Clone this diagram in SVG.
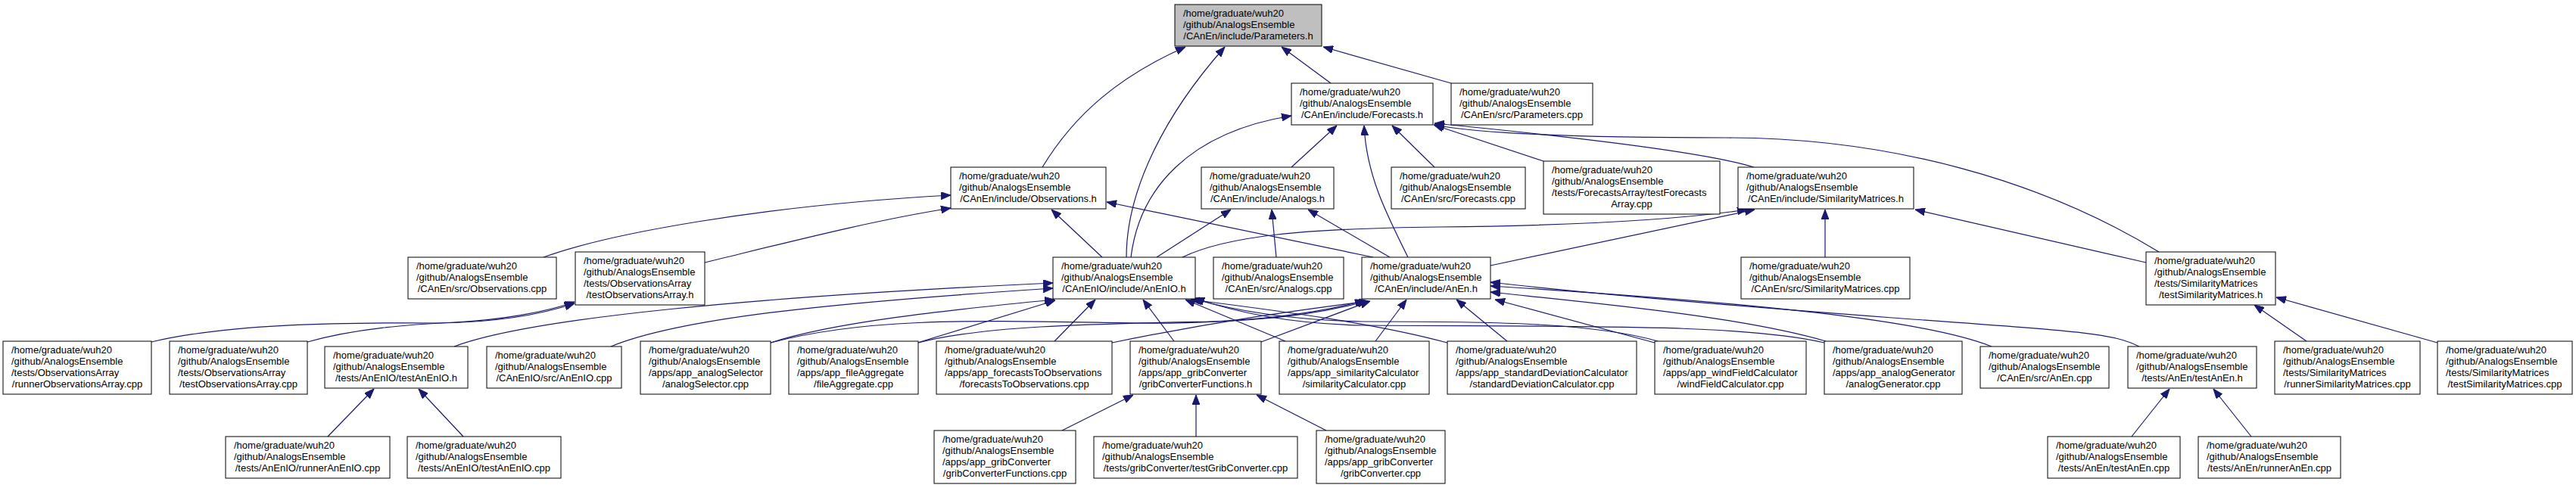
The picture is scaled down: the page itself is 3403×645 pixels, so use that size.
<svg xmlns="http://www.w3.org/2000/svg" width="3403" height="645" viewBox="0 0 3403 645">
<style>
.n rect{fill:#fff;stroke:#000;stroke-width:1}
.n.root rect{fill:#bfbfbf}
.n text{font-family:"Liberation Sans",Arial,sans-serif;font-size:13px;fill:#000}
.n text.c{text-anchor:middle}
#edges path{fill:none;stroke:#191970;stroke-width:1.2;marker-end:url(#ah)}
</style>
<defs>
<marker id="ah" viewBox="0 0 13 10" markerWidth="13" markerHeight="10" markerUnits="userSpaceOnUse" refX="13" refY="5" orient="auto">
<path d="M0,0 L13,5 L0,10 z" fill="#191970" stroke="#191970" stroke-width="1"/>
</marker>
</defs>
<rect width="3403" height="645" fill="#fff"/>
<g id="edges">
<path d="M1377,221 C1420,150 1480,100 1566,62"/>
<path d="M1488,340 C1488,250 1540,150 1618,62"/>
<path d="M1758,110 L1693,62"/>
<path d="M1917,110 L1748,62"/>
<path d="M1706,221 L1766,166"/>
<path d="M1860,340 C1830,280 1805,230 1802,166"/>
<path d="M1895,221 L1839,166"/>
<path d="M2039,213 L1894,165"/>
<path d="M2317,221 C2250,200 2050,178 1895,163"/>
<path d="M2852,333 C2700,240 2500,182 2280,182 C2100,182 1960,178 1895,165"/>
<path d="M1494,340 C1505,250 1570,175 1706,153"/>
<path d="M718,340 C800,310 1000,272 1256,258"/>
<path d="M931,347 C1050,318 1150,292 1256,275"/>
<path d="M1456,340 L1389,277"/>
<path d="M1814,340 L1462,267"/>
<path d="M1528,340 L1626,277"/>
<path d="M1836,340 L1728,277"/>
<path d="M1686,340 L1680,277"/>
<path d="M1562,340 C1620,312 1720,302 1900,300 C2100,298 2220,290 2308,277"/>
<path d="M1969,351 L2318,277"/>
<path d="M2411,340 L2411,277"/>
<path d="M2835,347 L2530,277"/>
<path d="M200,452 C300,428 450,426 580,427 C660,426 720,414 759,401"/>
<path d="M406,452 C470,434 540,429 600,426 C660,423 720,413 759,399"/>
<path d="M433,577 L494,514"/>
<path d="M612,577 L553,514"/>
<path d="M600,458 C700,420 1000,392 1391,374"/>
<path d="M807,458 C900,420 1100,400 1391,381"/>
<path d="M1018,453 C1100,426 1250,410 1393,396"/>
<path d="M1212,453 L1394,397"/>
<path d="M1393,451 L1447,396"/>
<path d="M1551,451 L1510,396"/>
<path d="M1698,451 L1566,396"/>
<path d="M1912,453 C1820,428 1700,412 1573,396"/>
<path d="M2190,451 C2100,425 1950,425 1800,425 C1700,423 1630,410 1576,395"/>
<path d="M2410,453 C2300,428 2100,432 1800,430 C1700,428 1630,412 1578,394"/>
<path d="M2186,453 L1975,396"/>
<path d="M2412,451 C2300,418 2100,400 1969,386"/>
<path d="M2631,458 C2560,430 2400,405 1969,378"/>
<path d="M2826,458 C2790,440 2750,438 2500,420 C2300,405 2100,388 1969,373"/>
<path d="M1018,453 C1150,418 1300,424 1500,427 C1650,429 1750,412 1803,397"/>
<path d="M1213,453 C1300,430 1450,428 1600,425 C1700,422 1760,410 1806,398"/>
<path d="M1469,453 C1600,426 1700,412 1808,398"/>
<path d="M1666,452 L1810,398"/>
<path d="M1817,451 L1858,396"/>
<path d="M1991,451 L1924,396"/>
<path d="M1403,569 L1497,522"/>
<path d="M1580,577 L1580,522"/>
<path d="M1752,569 L1660,522"/>
<path d="M2816,577 L2866,514"/>
<path d="M2974,577 L2924,514"/>
<path d="M3047,451 L2978,403"/>
<path d="M3220,453 L3007,393"/>
</g>
<g id="n_P" class="n root"><rect x="1552" y="6" width="194" height="55"/><text x="1563" y="22">/home/graduate/wuh20</text><text x="1563" y="37">/github/AnalogsEnsemble</text><text class="c" x="1649" y="52">/CAnEn/include/Parameters.h</text></g>
<g id="n_F" class="n"><rect x="1706" y="110" width="187" height="55"/><text x="1717" y="126">/home/graduate/wuh20</text><text x="1717" y="141">/github/AnalogsEnsemble</text><text class="c" x="1799.5" y="156">/CAnEn/include/Forecasts.h</text></g>
<g id="n_Pc" class="n"><rect x="1917" y="110" width="187" height="55"/><text x="1928" y="126">/home/graduate/wuh20</text><text x="1928" y="141">/github/AnalogsEnsemble</text><text class="c" x="2010.5" y="156">/CAnEn/src/Parameters.cpp</text></g>
<g id="n_O" class="n"><rect x="1256" y="221" width="205" height="55"/><text x="1267" y="237">/home/graduate/wuh20</text><text x="1267" y="252">/github/AnalogsEnsemble</text><text class="c" x="1358.5" y="267">/CAnEn/include/Observations.h</text></g>
<g id="n_A" class="n"><rect x="1587" y="221" width="175" height="55"/><text x="1598" y="237">/home/graduate/wuh20</text><text x="1598" y="252">/github/AnalogsEnsemble</text><text class="c" x="1674.5" y="267">/CAnEn/include/Analogs.h</text></g>
<g id="n_Fc" class="n"><rect x="1838" y="221" width="177" height="55"/><text x="1849" y="237">/home/graduate/wuh20</text><text x="1849" y="252">/github/AnalogsEnsemble</text><text class="c" x="1926.5" y="267">/CAnEn/src/Forecasts.cpp</text></g>
<g id="n_tFA" class="n"><rect x="2039" y="213" width="233" height="70"/><text x="2050" y="229">/home/graduate/wuh20</text><text x="2050" y="244">/github/AnalogsEnsemble</text><text x="2050" y="259">/tests/ForecastsArray/testForecasts</text><text class="c" x="2155.5" y="274">Array.cpp</text></g>
<g id="n_S" class="n"><rect x="2296" y="221" width="232" height="55"/><text x="2307" y="237">/home/graduate/wuh20</text><text x="2307" y="252">/github/AnalogsEnsemble</text><text class="c" x="2412" y="267">/CAnEn/include/SimilarityMatrices.h</text></g>
<g id="n_Oc" class="n"><rect x="539" y="340" width="196" height="55"/><text x="550" y="356">/home/graduate/wuh20</text><text x="550" y="371">/github/AnalogsEnsemble</text><text class="c" x="637" y="386">/CAnEn/src/Observations.cpp</text></g>
<g id="n_tOAh" class="n"><rect x="760" y="333" width="171" height="70"/><text x="771" y="349">/home/graduate/wuh20</text><text x="771" y="364">/github/AnalogsEnsemble</text><text x="771" y="379">/tests/ObservationsArray</text><text class="c" x="845.5" y="394">/testObservationsArray.h</text></g>
<g id="n_IO" class="n"><rect x="1391" y="340" width="188" height="55"/><text x="1402" y="356">/home/graduate/wuh20</text><text x="1402" y="371">/github/AnalogsEnsemble</text><text class="c" x="1485" y="386">/CAnEnIO/include/AnEnIO.h</text></g>
<g id="n_Ac" class="n"><rect x="1603" y="340" width="172" height="55"/><text x="1614" y="356">/home/graduate/wuh20</text><text x="1614" y="371">/github/AnalogsEnsemble</text><text class="c" x="1689" y="386">/CAnEn/src/Analogs.cpp</text></g>
<g id="n_E" class="n"><rect x="1799" y="340" width="170" height="55"/><text x="1810" y="356">/home/graduate/wuh20</text><text x="1810" y="371">/github/AnalogsEnsemble</text><text class="c" x="1884" y="386">/CAnEn/include/AnEn.h</text></g>
<g id="n_Sc" class="n"><rect x="2300" y="340" width="223" height="55"/><text x="2311" y="356">/home/graduate/wuh20</text><text x="2311" y="371">/github/AnalogsEnsemble</text><text class="c" x="2411.5" y="386">/CAnEn/src/SimilarityMatrices.cpp</text></g>
<g id="n_tSh" class="n"><rect x="2835" y="333" width="171" height="70"/><text x="2846" y="349">/home/graduate/wuh20</text><text x="2846" y="364">/github/AnalogsEnsemble</text><text x="2846" y="379">/tests/SimilarityMatrices</text><text class="c" x="2920.5" y="394">/testSimilarityMatrices.h</text></g>
<g id="n_rOA" class="n"><rect x="4" y="451" width="196" height="70"/><text x="15" y="467">/home/graduate/wuh20</text><text x="15" y="482">/github/AnalogsEnsemble</text><text x="15" y="497">/tests/ObservationsArray</text><text class="c" x="102" y="512">/runnerObservationsArray.cpp</text></g>
<g id="n_tOAc" class="n"><rect x="224" y="451" width="182" height="70"/><text x="235" y="467">/home/graduate/wuh20</text><text x="235" y="482">/github/AnalogsEnsemble</text><text x="235" y="497">/tests/ObservationsArray</text><text class="c" x="315" y="512">/testObservationsArray.cpp</text></g>
<g id="n_tAIOh" class="n"><rect x="429" y="458" width="189" height="55"/><text x="440" y="474">/home/graduate/wuh20</text><text x="440" y="489">/github/AnalogsEnsemble</text><text class="c" x="523.5" y="504">/tests/AnEnIO/testAnEnIO.h</text></g>
<g id="n_AIOc" class="n"><rect x="643" y="458" width="178" height="55"/><text x="654" y="474">/home/graduate/wuh20</text><text x="654" y="489">/github/AnalogsEnsemble</text><text class="c" x="732" y="504">/CAnEnIO/src/AnEnIO.cpp</text></g>
<g id="n_aSel" class="n"><rect x="846" y="451" width="172" height="70"/><text x="857" y="467">/home/graduate/wuh20</text><text x="857" y="482">/github/AnalogsEnsemble</text><text x="857" y="497">/apps/app_analogSelector</text><text class="c" x="932" y="512">/analogSelector.cpp</text></g>
<g id="n_fAgg" class="n"><rect x="1042" y="451" width="171" height="70"/><text x="1053" y="467">/home/graduate/wuh20</text><text x="1053" y="482">/github/AnalogsEnsemble</text><text x="1053" y="497">/apps/app_fileAggregate</text><text class="c" x="1127.5" y="512">/fileAggregate.cpp</text></g>
<g id="n_f2o" class="n"><rect x="1237" y="451" width="232" height="70"/><text x="1248" y="467">/home/graduate/wuh20</text><text x="1248" y="482">/github/AnalogsEnsemble</text><text x="1248" y="497">/apps/app_forecastsToObservations</text><text class="c" x="1353" y="512">/forecastsToObservations.cpp</text></g>
<g id="n_gcfH" class="n"><rect x="1493" y="451" width="173" height="70"/><text x="1504" y="467">/home/graduate/wuh20</text><text x="1504" y="482">/github/AnalogsEnsemble</text><text x="1504" y="497">/apps/app_gribConverter</text><text class="c" x="1579.5" y="512">/gribConverterFunctions.h</text></g>
<g id="n_simC" class="n"><rect x="1690" y="451" width="198" height="70"/><text x="1701" y="467">/home/graduate/wuh20</text><text x="1701" y="482">/github/AnalogsEnsemble</text><text x="1701" y="497">/apps/app_similarityCalculator</text><text class="c" x="1789" y="512">/similarityCalculator.cpp</text></g>
<g id="n_sdC" class="n"><rect x="1912" y="451" width="250" height="70"/><text x="1923" y="467">/home/graduate/wuh20</text><text x="1923" y="482">/github/AnalogsEnsemble</text><text x="1923" y="497">/apps/app_standardDeviationCalculator</text><text class="c" x="2037" y="512">/standardDeviationCalculator.cpp</text></g>
<g id="n_wind" class="n"><rect x="2186" y="451" width="200" height="70"/><text x="2197" y="467">/home/graduate/wuh20</text><text x="2197" y="482">/github/AnalogsEnsemble</text><text x="2197" y="497">/apps/app_windFieldCalculator</text><text class="c" x="2286" y="512">/windFieldCalculator.cpp</text></g>
<g id="n_aGen" class="n"><rect x="2410" y="451" width="182" height="70"/><text x="2421" y="467">/home/graduate/wuh20</text><text x="2421" y="482">/github/AnalogsEnsemble</text><text x="2421" y="497">/apps/app_analogGenerator</text><text class="c" x="2501" y="512">/analogGenerator.cpp</text></g>
<g id="n_AEc" class="n"><rect x="2616" y="458" width="170" height="55"/><text x="2627" y="474">/home/graduate/wuh20</text><text x="2627" y="489">/github/AnalogsEnsemble</text><text class="c" x="2701" y="504">/CAnEn/src/AnEn.cpp</text></g>
<g id="n_tAEh" class="n"><rect x="2811" y="458" width="170" height="55"/><text x="2822" y="474">/home/graduate/wuh20</text><text x="2822" y="489">/github/AnalogsEnsemble</text><text class="c" x="2896" y="504">/tests/AnEn/testAnEn.h</text></g>
<g id="n_rSM" class="n"><rect x="3005" y="451" width="192" height="70"/><text x="3016" y="467">/home/graduate/wuh20</text><text x="3016" y="482">/github/AnalogsEnsemble</text><text x="3016" y="497">/tests/SimilarityMatrices</text><text class="c" x="3101" y="512">/runnerSimilarityMatrices.cpp</text></g>
<g id="n_tSMc" class="n"><rect x="3220" y="451" width="178" height="70"/><text x="3231" y="467">/home/graduate/wuh20</text><text x="3231" y="482">/github/AnalogsEnsemble</text><text x="3231" y="497">/tests/SimilarityMatrices</text><text class="c" x="3309" y="512">/testSimilarityMatrices.cpp</text></g>
<g id="n_rAIO" class="n"><rect x="298" y="577" width="217" height="55"/><text x="309" y="593">/home/graduate/wuh20</text><text x="309" y="608">/github/AnalogsEnsemble</text><text class="c" x="406.5" y="623">/tests/AnEnIO/runnerAnEnIO.cpp</text></g>
<g id="n_tAIOc" class="n"><rect x="538" y="577" width="203" height="55"/><text x="549" y="593">/home/graduate/wuh20</text><text x="549" y="608">/github/AnalogsEnsemble</text><text class="c" x="639.5" y="623">/tests/AnEnIO/testAnEnIO.cpp</text></g>
<g id="n_gcfC" class="n"><rect x="1234" y="569" width="187" height="70"/><text x="1245" y="585">/home/graduate/wuh20</text><text x="1245" y="600">/github/AnalogsEnsemble</text><text x="1245" y="615">/apps/app_gribConverter</text><text class="c" x="1327.5" y="630">/gribConverterFunctions.cpp</text></g>
<g id="n_tGC" class="n"><rect x="1445" y="577" width="269" height="55"/><text x="1456" y="593">/home/graduate/wuh20</text><text x="1456" y="608">/github/AnalogsEnsemble</text><text class="c" x="1579.5" y="623">/tests/gribConverter/testGribConverter.cpp</text></g>
<g id="n_gC" class="n"><rect x="1739" y="569" width="170" height="70"/><text x="1750" y="585">/home/graduate/wuh20</text><text x="1750" y="600">/github/AnalogsEnsemble</text><text x="1750" y="615">/apps/app_gribConverter</text><text class="c" x="1824" y="630">/gribConverter.cpp</text></g>
<g id="n_tAEc" class="n"><rect x="2705" y="577" width="175" height="55"/><text x="2716" y="593">/home/graduate/wuh20</text><text x="2716" y="608">/github/AnalogsEnsemble</text><text class="c" x="2792.5" y="623">/tests/AnEn/testAnEn.cpp</text></g>
<g id="n_rAE" class="n"><rect x="2904" y="577" width="188" height="55"/><text x="2915" y="593">/home/graduate/wuh20</text><text x="2915" y="608">/github/AnalogsEnsemble</text><text class="c" x="2998" y="623">/tests/AnEn/runnerAnEn.cpp</text></g>
</svg>
